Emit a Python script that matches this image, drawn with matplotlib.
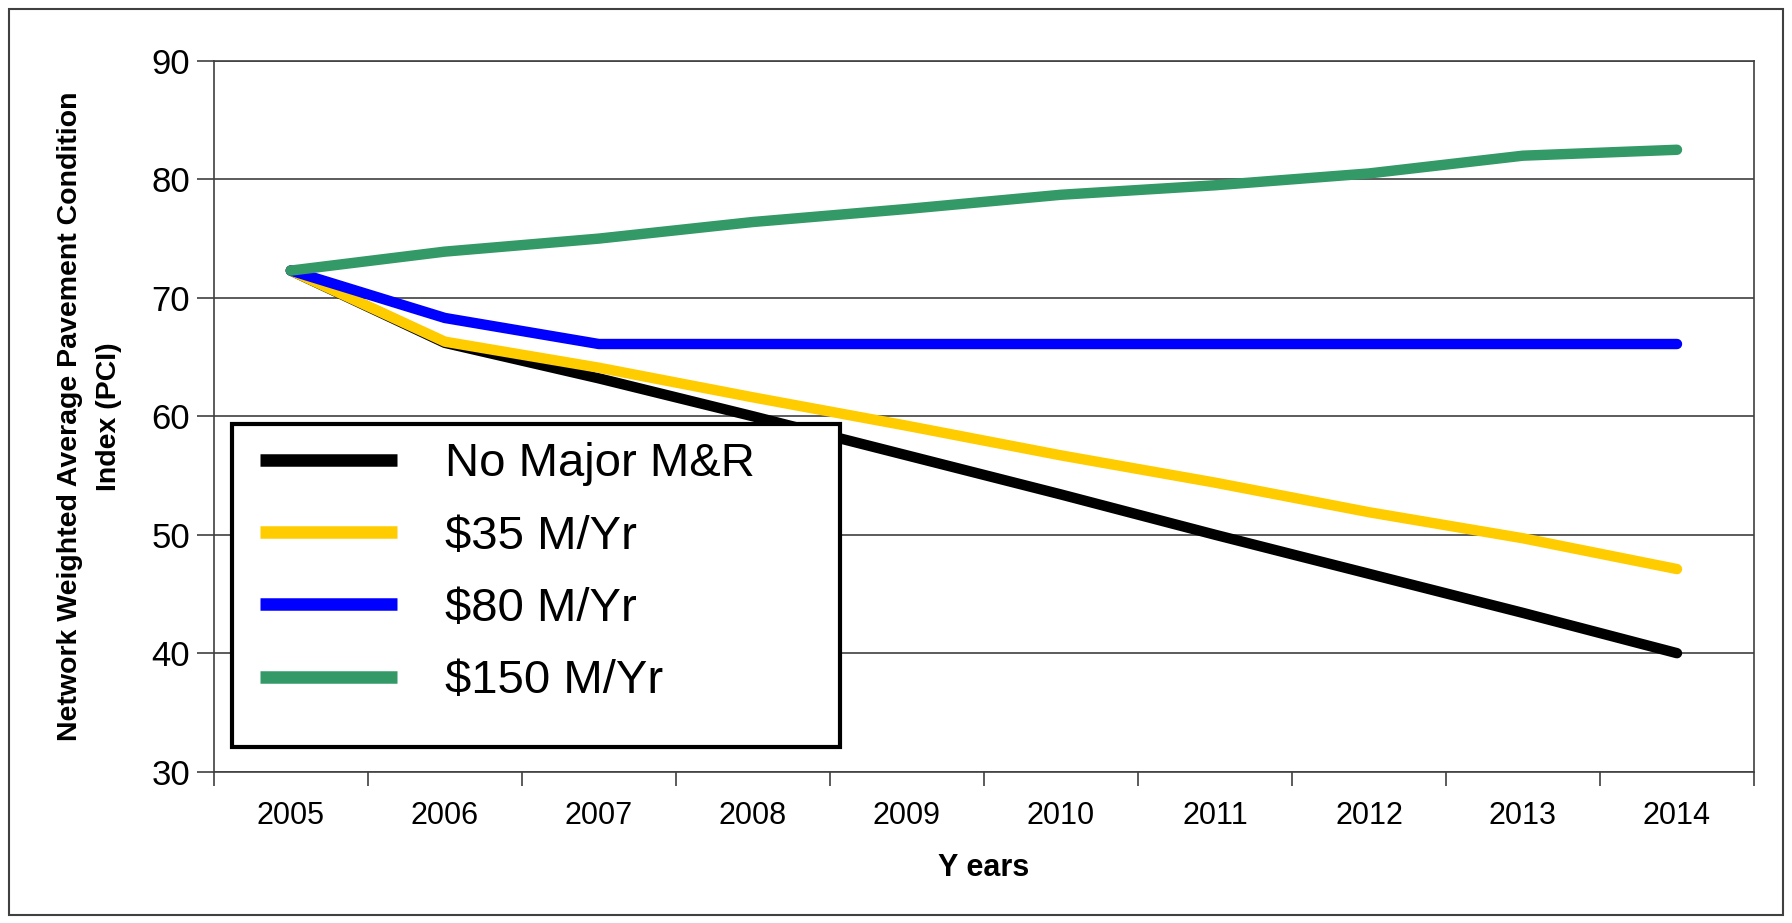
import numpy as np
import matplotlib
matplotlib.use("Agg")
import matplotlib.pyplot as plt
from matplotlib.patches import Rectangle

# data
years = ["2005", "2006", "2007", "2008", "2009", "2010", "2011", "2012", "2013", "2014"]
no_major = [72.3, 66.2, 63.2, 60.0, 56.7, 53.4, 50.0, 46.7, 43.4, 40.0]
m35 = [72.3, 66.3, 64.1, 61.6, 59.2, 56.7, 54.4, 51.9, 49.7, 47.1]
m80 = [72.3, 68.3, 66.1, 66.1, 66.1, 66.1, 66.1, 66.1, 66.1, 66.1]
m150 = [72.3, 73.9, 75.0, 76.4, 77.5, 78.7, 79.5, 80.5, 82.0, 82.5]

series = [("No Major M&R", no_major, "#000000"),
          ("$35 M/Yr", m35, "#FFCC00"),
          ("$80 M/Yr", m80, "#0000FF"),
          ("$150 M/Yr", m150, "#339966")]

font = "Liberation Sans"

fig = plt.figure(figsize=(17.92, 9.23), dpi=100)
ax = fig.add_axes([0.1193, 0.164, 0.8595, 0.770])

x = np.arange(len(years))
for name, vals, col in series:
    ax.plot(x, vals, color=col, lw=7.5, label=name, solid_capstyle="round",
            solid_joinstyle="round")

ax.set_xlim(-0.5, len(years) - 0.5)
ax.set_ylim(30, 90)
ax.set_yticks(np.arange(30, 91, 10))
ax.yaxis.grid(True, color="#404040", lw=1.2)
ax.set_axisbelow(True)

ax.set_xticks(x)
ax.set_xticklabels(years, fontfamily=font, fontsize=22)
ax.set_xticks(np.arange(-0.5, len(years)), minor=True)
ax.tick_params(axis="x", which="major", length=0, pad=21)
ax.tick_params(axis="x", which="minor", length=10, width=1.2, color="#404040", direction="out")
ax.tick_params(axis="y", length=12, width=1.2, color="#404040", pad=5)
for t in ax.get_yticklabels():
    t.set_fontfamily(font)
    t.set_fontsize(25)

for s in ax.spines.values():
    s.set_color("#404040")
    s.set_linewidth(1.2)

ax.set_xlabel("Y ears", fontfamily=font, fontweight="bold", fontsize=22, labelpad=16)
ax.set_ylabel("Network Weighted Average Pavement Condition\nIndex (PCI)",
              fontfamily=font, fontweight="bold", fontsize=20.5, labelpad=21,
              linespacing=1.65)

# legend box drawn separately (Excel puts extra room under the last entry)
ax.add_patch(Rectangle((0.0119, 0.0343), 0.3947, 0.4545, transform=ax.transAxes,
                       facecolor="white", edgecolor="black", lw=3, zorder=4))
leg = ax.legend(loc="upper left", bbox_to_anchor=(0.0119, 0.5032), frameon=False,
                prop={"family": font, "size": 34}, handlelength=2.9,
                handletextpad=1.0, labelspacing=0.6, borderpad=0.6, borderaxespad=0)
leg.set_zorder(5)
for h in leg.get_lines():
    h.set_linewidth(9)
    h.set_solid_capstyle("butt")

fig.patches.append(Rectangle((0.005, 0.009), 0.99, 0.981, transform=fig.transFigure,
                             fill=False, edgecolor="#404040", lw=1.5))

fig.savefig("out.png", dpi=100)
